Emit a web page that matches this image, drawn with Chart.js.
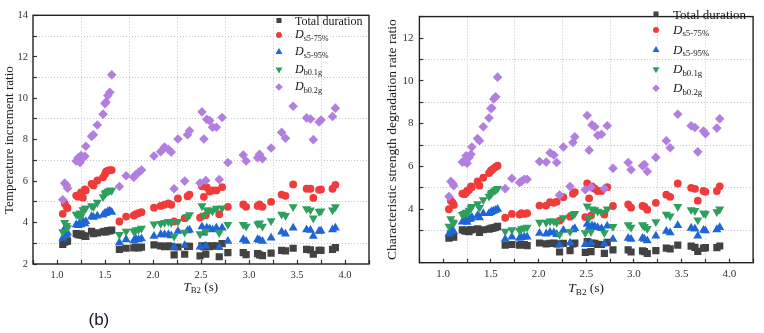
<!DOCTYPE html>
<html>
<head>
<meta charset="utf-8">
<script src="https://cdn.jsdelivr.net/npm/chart.js@4.4.0/dist/chart.umd.min.js"></script>
<style>
  html, body { margin: 0; padding: 0; background: #fff; }
  #page { position: relative; width: 764px; height: 333px; overflow: hidden; }
  .panel { position: absolute; top: 0; height: 333px; }
  .txt { position: absolute; font-family: "Liberation Serif", "Times New Roman", serif; color: #1a1a1a; white-space: nowrap; }
  .sub { font-size: 0.68em; position: relative; top: 0.32em; }
  #tag { position: absolute; font-family: "Liberation Sans", Arial, sans-serif; font-size: 17px; color: #161630; }
</style>
</head>
<body>
<div id="page">
  <div class="panel" style="left:0;width:380px"><canvas id="c1" width="380" height="333"></canvas></div>
  <div class="panel" style="left:380px;width:384px"><canvas id="c2" width="384" height="333"></canvas></div>
  <div id="tag">(b)</div>
</div>
<script>
// T_B2 (s), shared by every series
var tb2 = [1.06,1.08,1.10,1.11,1.20,1.22,1.24,1.25,1.27,1.29,1.30,1.36,1.38,1.42,1.48,1.50,1.51,1.53,1.55,1.57,
  1.65,1.72,1.80,1.82,1.85,1.88,2.01,2.08,2.12,2.16,2.19,2.22,2.26,2.33,2.36,2.38,
  2.49,2.51,2.53,2.55,2.56,2.59,2.62,2.66,2.69,2.72,2.78,2.94,2.97,3.09,3.11,3.14,3.23,3.34,3.38,3.46,
  3.60,3.64,3.67,3.73,3.75,3.87,3.90];

// left panel: temperature increment ratio
var tempTotal = [2.95,3.05,3.10,3.10, 3.47,3.42,3.40,3.45,3.38,3.35,3.33, 3.58,3.47,3.50, 3.55,3.58,3.55,3.61,3.60,3.63,
  2.71,2.76,2.78,2.81,2.78,2.81, 2.92,2.87,2.84,2.87,2.84, 2.44,2.82,2.47,2.85,2.85,
  2.39,2.87,2.82,2.47,2.87,2.84,2.87,2.87,2.35,2.98, 2.55, 2.55,2.45, 2.50,2.44,2.40, 2.52, 2.66,2.63, 2.76,
  2.71,2.68,2.47,2.66,2.66, 2.71,2.79];
var tempDs575 = [4.42,4.92,4.76,4.70, 5.30,5.25,5.35,5.45,5.20,5.60,5.55, 5.87,5.79,6.03, 6.18,6.34,6.45,6.50,6.53,6.53,
  4.05,4.29,4.34,4.40,4.45,4.50, 4.72,4.80,4.86,4.92,4.86, 4.05,5.16,4.21,5.27,5.35,
  4.24,5.75,5.24,4.35,5.70,5.50,5.55,5.55,4.40,5.71, 4.76, 4.87,4.76, 4.80,4.87,4.76, 5.00, 5.35,5.29, 5.84,
  5.63,5.63,5.19,5.58,5.60, 5.63,5.82];
var tempDs595 = [3.25,3.70,3.40,3.50, 3.90,3.86,4.00,3.90,4.05,3.95,4.05, 4.29,4.26,4.32, 4.37,4.45,4.45,4.53,4.56,4.50,
  3.03,3.18,3.13,3.22,3.18,3.22, 3.34,3.42,3.42,3.42,3.37, 2.82,3.58,2.90,3.61,3.64,
  2.82,3.80,3.50,2.87,3.74,3.70,3.66,3.74,2.80,3.74, 3.10, 3.18,3.10, 3.18,3.15,3.10, 3.26, 3.55,3.45, 3.74,
  3.66,3.63,3.34,3.58,3.60, 3.66,3.74];
var tempDb01 = [3.55,4.00,3.85,3.75, 4.40,4.37,4.45,4.30,4.61,4.65,4.70, 4.81,4.76,4.97, 5.24,5.39,5.45,5.50,5.55,5.55,
  3.42,3.58,3.58,3.63,3.66,3.72, 3.93,3.95,4.00,4.05,4.00, 3.34,4.05,3.53,4.29,4.37,
  3.45,4.80,4.35,3.58,4.60,4.60,4.55,4.68,3.50,4.70, 3.90, 3.90,3.82, 3.93,3.97,3.82, 4.08, 4.40,4.34, 4.76,
  4.66,4.60,4.21,4.53,4.55, 4.60,4.76];
var tempDb02 = [5.10,5.90,5.80,5.66, 6.97,7.13,6.90,7.23,7.10,7.20,7.68, 8.16,8.24,8.71, 9.23,9.74,9.82,10.13,10.29,11.13,
  5.74,6.26,6.18,6.31,6.42,6.53, 7.21,7.42,7.64,7.53,7.40, 5.63,8.03,6.00,8.24,8.43,
  5.91,9.34,8.03,6.03,8.98,8.92,8.60,8.60,6.08,9.07, 6.90, 7.26,6.97, 7.13,7.29,7.08, 7.60, 8.35,8.07, 9.61,
  9.05,9.00,8.00,8.85,8.95, 9.12,9.52];

// right panel: characteristic strength degradation rate ratio
var degTotal = [2.65,2.75,2.72,2.70, 3.04,3.00,2.98,3.02,2.95,3.04,3.04, 3.08,2.92,3.04, 3.07,3.10,3.10,3.13,3.15,3.20,
  2.32,2.35,2.32,2.34,2.35,2.30, 2.42,2.38,2.40,2.42,2.38, 2.00,2.40,2.06,2.38,2.41,
  1.98,2.48,2.40,2.02,2.42,2.40,2.36,2.35,1.94,2.45, 2.10, 2.10,2.00, 2.05,2.02,1.93, 2.06, 2.18,2.15, 2.32,
  2.27,2.22,2.03,2.18,2.20, 2.20,2.28];
var degDs575 = [4.00,4.40,4.30,4.20, 4.73,4.70,4.77,4.85,4.90,5.06,5.03, 5.30,5.10,5.47, 5.69,5.80,5.84,5.91,5.98,6.03,
  3.60,3.78,3.75,3.82,3.78,3.81, 4.17,4.17,4.33,4.30,4.35, 3.47,4.56,3.65,4.72,4.80,
  3.63,5.20,4.51,3.70,5.06,4.96,4.85,4.85,3.75,5.03, 4.15, 4.22,4.07, 4.15,4.12,3.98, 4.30, 4.68,4.58, 5.20,
  5.00,4.95,4.40,4.85,4.81, 4.85,5.07];
var degDs595 = [2.85,3.05,3.00,2.95, 3.41,3.45,3.49,3.40,3.52,3.56,3.63, 3.71,3.60,3.80, 3.80,3.85,3.90,3.92,3.95,4.00,
  2.60,2.70,2.65,2.68,2.70,2.70, 2.88,2.85,2.92,2.90,2.82, 2.33,3.02,2.42,3.04,3.10,
  2.36,3.30,3.15,2.41,3.24,3.19,3.15,3.10,2.38,3.22, 2.60, 2.65,2.60, 2.65,2.60,2.53, 2.75, 2.97,2.90, 3.24,
  3.12,3.08,2.75,3.02,3.00, 3.05,3.15];
var degDb01 = [3.20,3.55,3.40,3.35, 3.75,3.80,3.85,3.78,3.95,4.05,4.12, 4.25,4.07,4.44, 4.60,4.70,4.78,4.85,4.90,4.96,
  2.97,3.04,3.00,3.08,3.12,3.15, 3.38,3.38,3.44,3.44,3.38, 2.82,3.60,2.95,3.75,3.80,
  2.90,4.15,3.60,2.95,4.00,3.97,3.90,3.85,2.90,4.00, 3.19, 3.27,3.15, 3.27,3.19,3.09, 3.41, 3.76,3.68, 4.12,
  3.97,3.93,3.49,3.82,3.78, 3.88,4.00];
var degDb02 = [4.59,5.30,5.20,5.10, 6.20,6.23,6.50,6.15,6.42,6.57,6.91, 7.30,7.20,7.85, 8.26,8.70,8.73,9.15,9.25,10.17,
  4.96,5.44,5.25,5.30,5.40,5.40, 6.23,6.20,6.64,6.53,6.18, 4.66,6.91,5.06,7.12,7.38,
  4.91,8.38,6.76,5.03,7.94,7.85,7.45,7.50,4.96,7.90, 5.91, 6.18,5.84, 6.03,6.09,5.76, 6.42, 7.20,6.87, 8.44,
  7.90,7.82,6.68,7.65,7.53, 7.79,8.23];

var seriesNames = ['Total duration', 's5-75%', 's5-95%', 'b0.1g', 'b0.2g'];

// marker look per series
var looks = [
  {color: '#424242', style: 'rect', rot: 0, r: 5.1, lr: 3.6},
  {color: '#f13b3b', style: 'circle', rot: 0, r: 3.9, lr: 3.0},
  {color: '#1e66d8', style: 'triangle', rot: 0, r: 5.2, lr: 4.0},
  {color: '#2e9f5c', style: 'triangle', rot: 180, r: 5.2, lr: 4.0},
  {color: '#b27fe0', style: 'rectRot', rot: 0, r: 4.8, lr: 3.8}
];

var clear = 'rgba(0,0,0,0)';
var gridGray = '#c6c6c6';

function near(a, b) { return Math.abs(a - b) < 1e-6; }

var framePlugin = {
  id: 'frame',
  afterDraw: function(chart, args, opts) {
    var ctx = chart.ctx, a = chart.chartArea;
    ctx.save();
    ctx.strokeStyle = '#222';
    ctx.lineWidth = 1.4;
    ctx.strokeRect(a.left, a.top, a.right - a.left, a.bottom - a.top);
    for (var i = 0; i < looks.length; i++) {
      var s = looks[i];
      ctx.fillStyle = s.color;
      Chart.helpers.drawPoint(ctx, {pointStyle: s.style, rotation: s.rot, radius: s.lr, borderWidth: 0},
        opts.mx, opts.rows[i]);
    }
    ctx.restore();
  }
};

function makeChart(id, cfg) {
  var sets = [];
  for (var i = 0; i < looks.length; i++) {
    var ys = cfg.values[i];
    sets.push({
      label: seriesNames[i],
      data: tb2.map(function(x, k) { return {x: x, y: ys[k]}; }),
      pointStyle: looks[i].style,
      pointRotation: looks[i].rot,
      pointRadius: looks[i].r,
      backgroundColor: looks[i].color,
      borderColor: looks[i].color,
      pointBorderWidth: 0,
      order: looks.length - i
    });
  }
  var tickFont = {family: 'Liberation Serif', size: cfg.tickSize};
  return new Chart(document.getElementById(id), {
    type: 'scatter',
    data: {datasets: sets},
    options: {
      responsive: false,
      animation: false,
      events: [],
      layout: {padding: {top: cfg.top, right: cfg.right, left: 0, bottom: 0}},
      plugins: {
        legend: {display: false},
        tooltip: {enabled: false},
        frame: {mx: cfg.legendX, rows: cfg.legendRows}
      },
      scales: {
        x: {
          type: 'linear', min: 0.75, max: 4.25,
          afterFit: function(s) { s.height = cfg.xH; },
          ticks: {
            stepSize: 0.25, autoSkip: false, maxRotation: 0, padding: cfg.xPad,
            color: '#333', font: tickFont,
            callback: function(v) {
              return (near(v * 2, Math.round(v * 2)) && v > 0.9 && v < 4.1) ? v.toFixed(1) : '';
            }
          },
          grid: {
            color: function(c) {
              if (!c.tick) return clear;
              var q = Math.round(c.tick.value * 4);
              return (q % 2 === 1 && c.tick.value > 0.8 && c.tick.value < 4.2) ? gridGray : clear;
            },
            tickLength: -4, tickColor: '#333', tickWidth: 1.2
          },
          border: {display: false, dash: [1, 2]}
        },
        y: {
          type: 'linear', min: cfg.ymin, max: cfg.ymax,
          afterFit: function(s) { s.width = cfg.yW; },
          ticks: {
            stepSize: 1, autoSkip: false, padding: cfg.yPad,
            color: '#333', font: tickFont,
            callback: function(v) { return (Number.isInteger(v) && v % 2 === 0) ? String(v) : ''; }
          },
          grid: {
            color: function(c) {
              if (!c.tick) return clear;
              var v = c.tick.value;
              return (Number.isInteger(v) && v % 2 === 1 && v < cfg.ymax) ? gridGray : clear;
            },
            tickLength: -4, tickColor: '#333', tickWidth: 1.2
          },
          border: {display: false, dash: [1, 2]}
        }
      }
    },
    plugins: [framePlugin]
  });
}

var left = makeChart('c1', {
  values: [tempTotal, tempDs575, tempDs595, tempDb01, tempDb02],
  ymin: 2, ymax: 14, top: 10, right: 11, xH: 69, yW: 33, xPad: 9, yPad: 9, tickSize: 10.5,
  legendX: 279, legendRows: [20.5, 35, 52, 69.5, 87]
});
var right = makeChart('c2', {
  values: [degTotal, degDs575, degDs595, degDb01, degDb02],
  ymin: 1.5, ymax: 13, top: 2, right: 10.9, xH: 70.3, yW: 39.4, xPad: 9, yPad: 10, tickSize: 11,
  legendX: 276, legendRows: [14, 30, 50, 69.3, 88.3]
});

// text overlays (subscripts need real HTML text)
var page = document.getElementById('page');
function addText(html, size, cx, cy, rotate, leftAlign) {
  var el = document.createElement('div');
  el.className = 'txt';
  el.innerHTML = html;
  el.style.fontSize = size + 'px';
  el.style.lineHeight = size + 'px';
  page.appendChild(el);
  var w = el.offsetWidth, h = el.offsetHeight;
  if (rotate) {
    el.style.transformOrigin = '0 0';
    el.style.transform = 'rotate(-90deg)';
    el.style.left = (cx - h / 2) + 'px';
    el.style.top = (cy + w / 2) + 'px';
  } else if (leftAlign) {
    el.style.left = cx + 'px';
    el.style.top = (cy - h / 2) + 'px';
  } else {
    el.style.left = (cx - w / 2) + 'px';
    el.style.top = (cy - h / 2) + 'px';
  }
  return el;
}
function legendHtml(i) {
  return i === 0 ? seriesNames[0] : '<i>D</i><span class="sub">' + seriesNames[i] + '</span>';
}

function decorate(chart, offset, o) {
  var a = chart.chartArea;
  var midX = offset + (a.left + a.right) / 2, midY = (a.top + a.bottom) / 2;
  addText(o.yTitle, o.titleSize, o.yTitleX, midY, true);
  addText('<i>T</i><span class="sub">B2</span> (s)', o.titleSize, midX, o.xTitleY);
  for (var i = 0; i < seriesNames.length; i++) {
    addText(legendHtml(i), o.legendSize, o.legendTextX, o.legendRows[i], false, true);
  }
}
decorate(left, 0, {yTitle: 'Temperature increment ratio', titleSize: 13, yTitleX: 8, xTitleY: 287,
  legendSize: 12, legendTextX: 295, legendRows: [20.5, 35, 52, 69.5, 87]});
decorate(right, 380, {yTitle: 'Characteristic strength degradation rate ratio', titleSize: 13.5, yTitleX: 392, xTitleY: 289,
  legendSize: 13, legendTextX: 673, legendRows: [14, 30, 50, 69.3, 88.3]});

var tag = document.getElementById('tag');
tag.style.left = (99 - tag.offsetWidth / 2) + 'px';
tag.style.top = (320 - tag.offsetHeight / 2) + 'px';
</script>
</body>
</html>
